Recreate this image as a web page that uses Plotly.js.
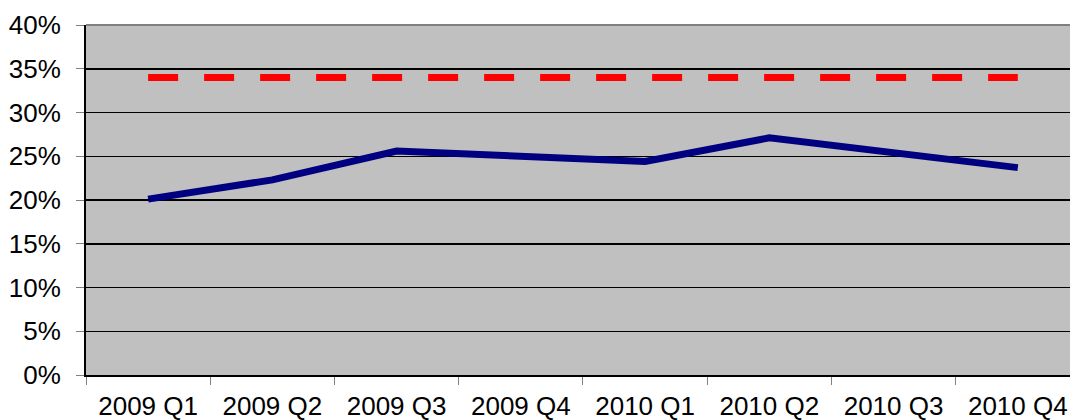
<!DOCTYPE html>
<html>
<head>
<meta charset="utf-8">
<script src="https://cdn.plot.ly/plotly-3.0.1.min.js"></script>
<style>html,body{margin:0;padding:0;overflow:hidden;background:#fff}</style>
</head>
<body>
<div id="chart" style="width:1070px;height:420px"></div>
<script>
var quarters = ['2009 Q1','2009 Q2','2009 Q3','2009 Q4','2010 Q1','2010 Q2','2010 Q3','2010 Q4'];
var actual = [20.1, 22.3, 25.6, 25.1, 24.4, 27.1, 25.5, 23.7];
var target = [34, 34, 34, 34, 34, 34, 34, 34];
var yTicks = [0, 5, 10, 15, 20, 25, 30, 35, 40];
var yTickLabels = ['0%', '5%', '10%', '15%', '20%', '25%', '30%', '35%', '40%'];

var traces = [
  {x: quarters, y: target, type: 'scatter', mode: 'lines',
   line: {color: '#FF0000', width: 7, dash: '30px,26px'}, hoverinfo: 'skip'},
  {x: quarters, y: actual, type: 'scatter', mode: 'lines',
   line: {color: '#000080', width: 7}, hoverinfo: 'skip'}
];

var layout = {
  width: 1070, height: 420,
  margin: {l: 86, r: 0, t: 25, b: 45, pad: 0},
  paper_bgcolor: '#FFFFFF', plot_bgcolor: '#C0C0C0',
  showlegend: false,
  font: {family: 'Liberation Sans, Arial, sans-serif', size: 26, color: '#000'},
  xaxis: {
    type: 'category', range: [-0.5, 7.42], tickson: 'boundaries',
    ticks: 'outside', ticklen: 8, tickcolor: '#808080', tickwidth: 1,
    showgrid: false, showline: true, linecolor: '#000', linewidth: 2,
    zeroline: false, tickfont: {size: 26}, ticklabelstandoff: 7
  },
  yaxis: {
    range: [0, 40], tickmode: 'array', tickvals: yTicks, ticktext: yTickLabels,
    ticks: 'outside', ticklen: 8, tickcolor: '#808080', tickwidth: 1,
    showgrid: true, gridcolor: '#000', gridwidth: 1.5,
    showline: true, linecolor: '#000', linewidth: 2, zeroline: false,
    tickfont: {size: 26}, ticklabelstandoff: 10
  },
  shapes: [{type: 'line', xref: 'paper', yref: 'paper', x0: 0, x1: 1, y0: 1, y1: 1,
            line: {color: '#808080', width: 2}, layer: 'above'}]
};

Plotly.newPlot('chart', traces, layout, {staticPlot: true, displayModeBar: false});
</script>
</body>
</html>
